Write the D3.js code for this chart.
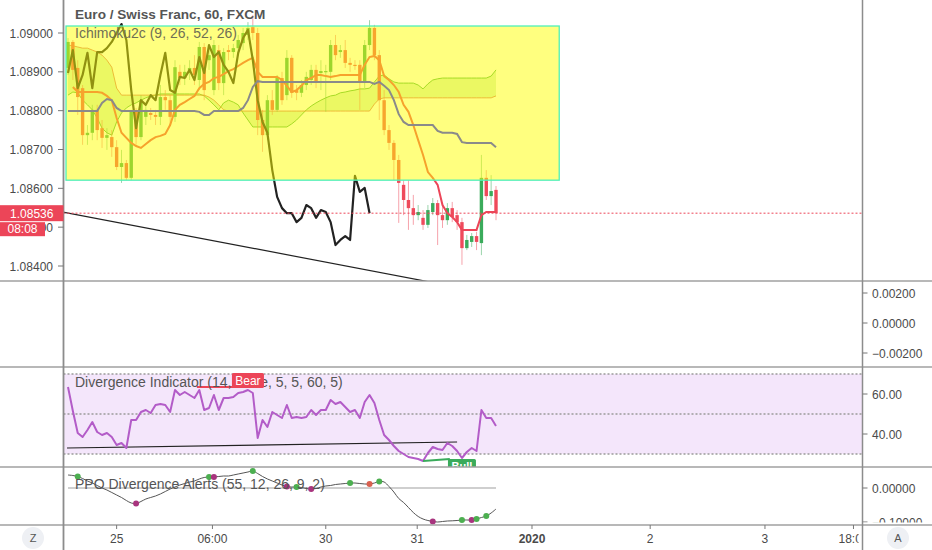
<!DOCTYPE html>
<html><head><meta charset="utf-8">
<script src="https://cdnjs.cloudflare.com/ajax/libs/d3/7.8.5/d3.min.js"></script>
<style>body{margin:0;background:#fff;overflow:hidden}text{font-family:"Liberation Sans",Arial,sans-serif}</style>
</head><body><svg id="c" width="932" height="550"></svg>
<script>
// ---------- DATA (EUR/CHF 60, FXCM) ----------
const open = [1.08910,1.08977,1.08910,1.08858,1.08737,1.08743,1.08802,1.08755,1.08730,1.08732,
1.08706,1.08655,1.08665,1.08627,1.08797,1.08732,1.08784,1.08794,1.08789,1.08784,
1.08835,1.08827,1.08784,1.08900,1.08884,1.08897,1.08910,1.08879,1.08964,1.08930,
1.08853,1.08956,1.08871,1.08956,1.08951,1.08961,1.08974,1.08995,1.09015,1.09000,
1.08776,1.08737,1.08827,1.08802,1.08884,1.08840,1.08936,1.08853,1.08846,1.08866,
1.08879,1.08905,1.08897,1.08900,1.08900,1.08969,1.08951,1.08956,1.08923,1.08918,
1.08918,1.08874,1.08969,1.09013,1.08943,1.08827,1.08750,1.08717,1.08673,1.08609,
1.08570,1.08549,1.08531,1.08524,1.08506,1.08539,1.08562,1.08531,1.08518,1.08549,
1.08531,1.08513,1.08446,1.08462,1.08477,1.08459,1.08627,1.08580,1.08596];
const high = [1.08987,1.08982,1.08930,1.08866,1.08763,1.08815,1.08815,1.08776,1.08755,1.08750,
1.08724,1.08699,1.08673,1.08802,1.08807,1.08840,1.08815,1.08807,1.08802,1.08866,
1.08853,1.08840,1.08930,1.08918,1.08918,1.08930,1.08943,1.08977,1.08974,1.08956,
1.08982,1.08969,1.08961,1.08969,1.08972,1.08995,1.09013,1.09028,1.09046,1.09013,
1.08802,1.08840,1.08853,1.08892,1.08900,1.08956,1.08943,1.08866,1.08879,1.08900,
1.08918,1.08918,1.08930,1.08918,1.08982,1.08995,1.08969,1.08982,1.08936,1.08930,
1.08930,1.08982,1.09033,1.09021,1.08956,1.08853,1.08763,1.08724,1.08686,1.08621,
1.08621,1.08583,1.08557,1.08544,1.08557,1.08575,1.08570,1.08557,1.08562,1.08565,
1.08544,1.08524,1.08480,1.08485,1.08488,1.08686,1.08647,1.08634,1.08606];
const low = [1.08892,1.08879,1.08789,1.08712,1.08712,1.08724,1.08724,1.08704,1.08699,1.08681,
1.08647,1.08614,1.08621,1.08621,1.08712,1.08724,1.08763,1.08776,1.08763,1.08763,
1.08802,1.08763,1.08771,1.08866,1.08866,1.08879,1.08866,1.08853,1.08827,1.08905,
1.08840,1.08853,1.08840,1.08930,1.08936,1.08943,1.08956,1.08982,1.08982,1.08737,
1.08694,1.08724,1.08789,1.08797,1.08815,1.08827,1.08833,1.08827,1.08835,1.08853,
1.08866,1.08858,1.08853,1.08797,1.08879,1.08930,1.08936,1.08910,1.08900,1.08905,
1.08802,1.08858,1.08956,1.08930,1.08776,1.08737,1.08699,1.08621,1.08511,1.08531,
1.08493,1.08506,1.08518,1.08493,1.08498,1.08531,1.08454,1.08498,1.08506,1.08513,
1.08493,1.08403,1.08441,1.08449,1.08441,1.08428,1.08570,1.08557,1.08518];
const close = [1.08977,1.08905,1.08835,1.08737,1.08743,1.08802,1.08750,1.08730,1.08737,1.08706,
1.08655,1.08665,1.08627,1.08797,1.08732,1.08827,1.08802,1.08789,1.08784,1.08835,
1.08827,1.08784,1.08912,1.08884,1.08900,1.08910,1.08892,1.08964,1.08853,1.08943,
1.08969,1.08871,1.08951,1.08951,1.08961,1.08982,1.09000,1.09013,1.09000,1.08776,
1.08737,1.08827,1.08802,1.08884,1.08827,1.08936,1.08846,1.08846,1.08866,1.08887,
1.08905,1.08874,1.08902,1.08902,1.08969,1.08943,1.08956,1.08923,1.08918,1.08915,
1.08874,1.08969,1.09013,1.08943,1.08827,1.08750,1.08717,1.08673,1.08614,1.08570,
1.08549,1.08531,1.08539,1.08506,1.08544,1.08562,1.08531,1.08518,1.08549,1.08526,
1.08513,1.08446,1.08467,1.08477,1.08462,1.08627,1.08580,1.08593,1.08536];

// Ichimoku2c (9, 26, 52, 26)
const tenkan = [null,1.08861,1.08848,1.08848,1.08848,1.08848,1.08848,1.08846,1.08838,1.08827,
1.08781,1.08743,1.08730,1.08717,1.08709,1.08704,1.08714,1.08724,1.08732,1.08735,
1.08740,1.08763,1.08802,1.08815,1.08822,1.08830,1.08838,1.08858,1.08869,1.08874,
1.08884,1.08887,1.08894,1.08902,1.08907,1.08915,1.08923,1.08930,1.08936,1.08900,
1.08887,1.08887,1.08887,1.08887,1.08879,1.08864,1.08848,1.08853,1.08864,1.08879,
1.08884,1.08892,1.08892,1.08889,1.08887,1.08889,1.08892,1.08892,1.08892,1.08892,
1.08892,1.08918,1.08938,1.08941,1.08930,1.08889,1.08879,1.08866,1.08848,1.08815,
1.08797,1.08763,1.08724,1.08686,1.08642,1.08627,1.08609,1.08557,1.08536,1.08526,
1.08513,1.08493,1.08493,1.08493,1.08493,1.08531,1.08539,1.08539,1.08539];
const kijun = [1.08799,1.08799,1.08799,1.08799,1.08799,1.08799,1.08799,1.08820,1.08830,1.08827,
1.08807,1.08799,1.08799,1.08799,1.08799,1.08799,1.08799,1.08799,1.08799,1.08799,
1.08799,1.08799,1.08799,1.08799,1.08799,1.08799,1.08799,1.08797,1.08789,1.08789,
1.08799,1.08799,1.08799,1.08799,1.08799,1.08799,1.08807,1.08827,1.08861,1.08876,
1.08874,1.08874,1.08874,1.08874,1.08874,1.08874,1.08874,1.08874,1.08874,1.08874,
1.08874,1.08874,1.08874,1.08874,1.08874,1.08874,1.08874,1.08874,1.08874,1.08874,
1.08874,1.08874,1.08874,1.08869,1.08874,1.08864,1.08853,1.08827,1.08791,1.08771,
1.08763,1.08763,1.08763,1.08763,1.08763,1.08763,1.08748,1.08743,1.08743,1.08743,
1.08740,1.08719,1.08717,1.08717,1.08717,1.08717,1.08717,1.08717,1.08706];
const senkouA = [1.08840,1.08848,1.08846,1.08827,1.08815,1.08802,1.08781,1.08755,1.08743,1.08737,
1.08771,1.08794,1.08807,1.08815,1.08820,1.08827,1.08833,1.08838,1.08840,1.08843,
1.08843,1.08843,1.08843,1.08843,1.08843,1.08843,1.08843,1.08843,1.08838,1.08827,
1.08815,1.08802,1.08820,1.08827,1.08822,1.08815,1.08794,1.08776,1.08758,1.08758,
1.08758,1.08758,1.08758,1.08758,1.08758,1.08758,1.08766,1.08776,1.08789,1.08802,
1.08812,1.08820,1.08827,1.08833,1.08838,1.08840,1.08846,1.08848,1.08851,1.08853,
1.08856,1.08856,1.08858,1.08874,1.08889,1.08892,1.08882,1.08874,1.08871,1.08871,
1.08871,1.08871,1.08866,1.08856,1.08869,1.08879,1.08882,1.08884,1.08884,1.08884,
1.08884,1.08884,1.08884,1.08884,1.08884,1.08884,1.08884,1.08889,1.08905];
const senkouB = [1.08969,1.08967,1.08964,1.08961,1.08961,1.08956,1.08951,1.08943,1.08930,1.08912,
1.08858,1.08840,1.08840,1.08840,1.08840,1.08840,1.08840,1.08840,1.08840,1.08840,
1.08840,1.08840,1.08840,1.08840,1.08840,1.08840,1.08840,1.08840,1.08840,1.08835,
1.08827,1.08815,1.08802,1.08799,1.08799,1.08799,1.08799,1.08799,1.08799,1.08799,
1.08799,1.08799,1.08799,1.08799,1.08799,1.08799,1.08799,1.08799,1.08799,1.08799,
1.08799,1.08799,1.08799,1.08799,1.08799,1.08799,1.08799,1.08799,1.08799,1.08799,
1.08799,1.08799,1.08799,1.08817,1.08830,1.08833,1.08833,1.08833,1.08833,1.08833,
1.08833,1.08833,1.08833,1.08833,1.08833,1.08833,1.08833,1.08833,1.08833,1.08833,
1.08833,1.08833,1.08833,1.08833,1.08833,1.08833,1.08833,1.08833,1.08838];
const lagging = [1.08897,1.08956,1.08858,1.08892,1.08949,1.08858,1.08951,1.08951,1.08961,1.08977,
1.09000,1.09023,1.08982,1.08853,1.08755,1.08827,1.08815,1.08840,1.08827,1.08892,
1.08949,1.08853,1.08846,1.08887,1.08884,1.08905,1.08879,1.08938,1.08897,1.08969,
1.08938,1.08951,1.08918,1.08900,1.08871,1.08949,1.08987,1.09008,1.08930,1.08827,
1.08771,1.08743,1.08647,1.08578,1.08549,1.08536,1.08536,1.08513,1.08524,1.08557,
1.08549,1.08524,1.08544,1.08539,1.08513,1.08454,1.08467,1.08477,1.08467,1.08632,
1.08591,1.08601,1.08536];

// Divergence Indicator (RSI 14)
const rsi = [63.5,51.5,40.5,38.5,42,46,41,39.5,40.5,38.5,
34.5,35.5,33,47,47,51,52,50.5,54.5,55,
54.5,51,62,59.5,61,59.5,58,62,52,53,
59.5,52,58,58,58.5,60.5,61,62,60.5,38,
47,43.5,51,49.5,48,54.5,48,48.5,48,48.5,
52,49.5,52,52,57,55,56,53.5,51,52,
48,56,59.5,55.5,47,39.5,37,34,31.5,30,
28.5,28,27.5,26.5,30.5,33.5,32.5,32,35.5,34,
31.5,28,31,33,31.5,52,48,48,44];

// PPO Divergence Alerts (55, 12, 26, 9, 2)
const ppo = [0.0382,0.0368,0.0338,0.0279,0.0206,0.0147,0.0074,0,-0.0059,-0.0132,
-0.0206,-0.0279,-0.0368,-0.0441,-0.0456,-0.0397,-0.0324,-0.0279,-0.0235,-0.0176,
-0.0103,-0.0029,0.0029,0.0088,0.0132,0.0176,0.0206,0.0265,0.0309,0.0324,
0.0324,0.0338,0.0353,0.0353,0.0382,0.0412,0.0441,0.0471,0.0500,0.0426,
0.0338,0.0265,0.0206,0.0147,0.0088,0.0044,0.0029,0.0029,0.0015,-0.0015,
-0.0029,-0.0015,0.0029,0.0059,0.0074,0.0103,0.0118,0.0132,0.0147,0.0147,
0.0132,0.0118,0.0118,0.0147,0.0191,0.0176,0.0044,-0.0118,-0.0309,-0.0426,
-0.0574,-0.0721,-0.0838,-0.0912,-0.0956,-0.0985,-0.1000,-0.0985,-0.0971,-0.0965,
-0.0956,-0.0941,-0.0941,-0.0941,-0.0912,-0.0868,-0.0824,-0.0735,-0.0618];
const ppoSignals = [{i:2,t:"bull"},{i:14,t:"bear"},{i:29,t:"bull"},{i:30,t:"bear"},{i:38,t:"bull"},
{i:45,t:"bear"},{i:47,t:"bull"},{i:50,t:"bear"},{i:58,t:"bull"},{i:62,t:"hbear"},{i:64,t:"bull"},
{i:75,t:"bear"},{i:81,t:"bull"},{i:83,t:"bear"},{i:84,t:"bull"},{i:86,t:"bull"}];

// Drawings (bar index / value anchors)
const trendMain = [{i:-1.03,p:1.08539},{i:73.5,p:1.08361}];
const box = {i0:-0.41,i1:101,pTop:1.09018,pBot:1.08621};
const rsiTrend = [{i:-0.2,v:33},{i:80,v:36}];
const bearLine = [{i:26.5,v:63.5},{i:37,v:63.5}];
const bullLine = [{i:73,v:26.5},{i:78.5,v:27.5}];
const bearLabel = {i:37,v:63,text:"Bear"};
const bullLabel = {i:81,v:27.5,text:"Bull"};
const lastPrice = 1.08536, countdown = "08:08";

// Tick labels
const priceTicks = [1.084,1.085,1.086,1.087,1.088,1.089,1.090];
const pane2Ticks = [0.002,0,-0.002];
const rsiTicks = [60,40];
const rsiLevels = [70,50,30];
const ppoTicks = [0,-0.1];
const timeTicks = [{i:10,l:"25"},{i:29.7,l:"06:00"},{i:53,l:"30"},{i:71.8,l:"31"},{i:95.4,l:"2020",b:true},
{i:119.7,l:"2"},{i:143.3,l:"3"},{i:161.5,l:"18:00"}];

// ---------- LAYOUT ----------
const L = 63.5, R = 862.5;
const P = {main:[0,281], p2:[281,367], rsi:[367,467], ppo:[467,525], time:[525,550]};
const UP = "#3aab5b", DN = "#ef4a5b", TXT = "#4a4a4a";

const svg = d3.select("#c");
const x = d3.scaleLinear().domain([0,88]).range([68,496]);
const yMain = d3.scaleLinear().domain([1.084,1.090]).range([266,33]);
const yP2 = d3.scaleLinear().domain([-0.002,0.002]).range([353,293]);
const yRsi = d3.scaleLinear().domain([30,70]).range([454,374]);
const yPpo = d3.scaleLinear().domain([-0.1,0]).range([522,488]);

const defs = svg.append("defs");
function clip(id, y0, y1, x0=L, x1=R){
  defs.append("clipPath").attr("id",id).append("rect").attr("x",x0).attr("y",y0).attr("width",x1-x0).attr("height",y1-y0);
  return `url(#${id})`;
}
const fmt5 = d3.format(".5f"), fmt2 = d3.format(".2f");
const fmtSigned = v => (v<0?"\u2212":"") + fmt5(Math.abs(v));

// ---------- MAIN PANE ----------
const main = svg.append("g").attr("clip-path", clip("cm", P.main[0], P.main[1]));
const idx = d3.range(open.length);

// cloud
main.append("path").datum(idx)
  .attr("d", d3.area().x(i=>x(i)).y0(i=>yMain(senkouA[i])).y1(i=>yMain(senkouB[i])))
  .attr("fill","rgba(120,205,70,0.30)");
main.append("path").datum(idx).attr("d", d3.line().x(i=>x(i)).y(i=>yMain(senkouA[i])))
  .attr("fill","none").attr("stroke","#4fb64a").attr("stroke-width",1);
main.append("path").datum(idx).attr("d", d3.line().x(i=>x(i)).y(i=>yMain(senkouB[i])))
  .attr("fill","none").attr("stroke","#d5584e").attr("stroke-width",1).attr("opacity",0.8);

// candles
const isUp = i => close[i] >= open[i];
main.append("g").selectAll("line").data(idx).join("line")
  .attr("x1",i=>x(i)).attr("x2",i=>x(i))
  .attr("y1",i=>yMain(high[i])).attr("y2",i=>yMain(low[i]))
  .attr("stroke",i=>isUp(i)?UP:DN).attr("stroke-width",1).attr("opacity",0.5);
main.append("g").selectAll("rect").data(idx).join("rect")
  .attr("x",i=>x(i)-1.7).attr("width",3.4)
  .attr("y",i=>yMain(Math.max(open[i],close[i])))
  .attr("height",i=>Math.max(1.2,Math.abs(yMain(open[i])-yMain(close[i]))))
  .attr("fill",i=>isUp(i)?UP:DN);

// tenkan
main.append("path").datum(idx)
  .attr("d", d3.line().defined(i=>tenkan[i]!=null).x(i=>x(i)).y(i=>yMain(tenkan[i])))
  .attr("fill","none").attr("stroke","#ec4558").attr("stroke-width",2);
// lagging
main.append("path").datum(d3.range(lagging.length))
  .attr("d", d3.line().x(i=>x(i)).y(i=>yMain(lagging[i])))
  .attr("fill","none").attr("stroke","#222").attr("stroke-width",2.2).attr("stroke-linejoin","round");

// main trend line (extended to the right)
{
  const a = trendMain[0], b = trendMain[1];
  const slope = (b.p-a.p)/(b.i-a.i);
  const iEnd = 120;
  main.append("line").attr("x1",x(a.i)).attr("y1",yMain(a.p))
    .attr("x2",x(iEnd)).attr("y2",yMain(a.p+slope*(iEnd-a.i)))
    .attr("stroke","#222").attr("stroke-width",1.2);
}

// yellow highlight rectangle
main.append("rect")
  .attr("x",x(box.i0)).attr("y",yMain(box.pTop))
  .attr("width",x(box.i1)-x(box.i0)).attr("height",yMain(box.pBot)-yMain(box.pTop))
  .attr("fill","#ffff00").attr("fill-opacity",0.5)
  .attr("stroke","#4ff0b8").attr("stroke-width",1.3);

// kijun
main.append("path").datum(idx)
  .attr("d", d3.line().x(i=>x(i)).y(i=>yMain(kijun[i])))
  .attr("fill","none").attr("stroke","#8a8a8a").attr("stroke-width",2);

// last price line
main.append("line").attr("x1",L).attr("x2",R).attr("y1",yMain(lastPrice)).attr("y2",yMain(lastPrice))
  .attr("stroke","#ec4558").attr("stroke-width",1).attr("stroke-dasharray","2,2");

// legends
svg.append("text").attr("x",75).attr("y",19).attr("font-size",13.6).attr("font-weight","bold")
  .attr("fill","#555").text("Euro / Swiss Franc, 60, FXCM");
svg.append("text").attr("x",75).attr("y",38).attr("font-size",14)
  .attr("fill","#6f6f55").text("Ichimoku2c (9, 26, 52, 26)");

// ---------- RSI PANE ----------
const rg = svg.append("g").attr("clip-path", clip("cr", P.rsi[0], P.rsi[1]));
rg.append("rect").attr("x",L).attr("width",R-L)
  .attr("y",yRsi(70)).attr("height",yRsi(30)-yRsi(70)).attr("fill","#f4e6fb");
rg.selectAll("line.lv").data(rsiLevels).join("line")
  .attr("x1",L).attr("x2",R).attr("y1",d=>yRsi(d)).attr("y2",d=>yRsi(d))
  .attr("stroke","#9a9a9a").attr("stroke-width",1.3).attr("stroke-dasharray","2,2");
rg.append("line").attr("x1",x(rsiTrend[0].i)).attr("y1",yRsi(rsiTrend[0].v))
  .attr("x2",x(rsiTrend[1].i)).attr("y2",yRsi(rsiTrend[1].v)).attr("stroke","#222").attr("stroke-width",1.2);
rg.append("path").datum(idx)
  .attr("d", d3.line().x(i=>x(i)).y(i=>yRsi(rsi[i])))
  .attr("fill","none").attr("stroke","#b35cc8").attr("stroke-width",2).attr("stroke-linejoin","round");
rg.append("line").attr("x1",x(bearLine[0].i)).attr("y1",yRsi(bearLine[0].v))
  .attr("x2",x(bearLine[1].i)).attr("y2",yRsi(bearLine[1].v)).attr("stroke","#ec4558").attr("stroke-width",2);
rg.append("line").attr("x1",x(bullLine[0].i)).attr("y1",yRsi(bullLine[0].v))
  .attr("x2",x(bullLine[1].i)).attr("y2",yRsi(bullLine[1].v)).attr("stroke","#3aab5b").attr("stroke-width",2);
svg.append("text").attr("x",75).attr("y",387).attr("font-size",14).attr("fill","#555")
  .text("Divergence Indicator (14, close, 5, 5, 60, 5)");
{
  const bx = x(bearLabel.i), by = yRsi(bearLabel.v);
  svg.append("rect").attr("x",bx-16).attr("y",by-15).attr("width",32).attr("height",15).attr("rx",1.5).attr("fill","#ec4558");
  svg.append("text").attr("x",bx).attr("y",by-3.5).attr("text-anchor","middle").attr("font-size",12)
    .attr("fill","#fff").text(bearLabel.text);
  const ux = x(bullLabel.i), uy = yRsi(bullLabel.v);
  rg.append("rect").attr("x",ux-14).attr("y",uy).attr("width",28).attr("height",14).attr("rx",1.5).attr("fill","#3aab5b");
  rg.append("text").attr("x",ux).attr("y",uy+11).attr("text-anchor","middle").attr("font-size",11)
    .attr("font-weight","bold").attr("fill","#fff").text(bullLabel.text);
}

// ---------- PPO PANE ----------
const pg = svg.append("g").attr("clip-path", clip("cp", P.ppo[0], P.ppo[1]));
pg.append("line").attr("x1",x(0)).attr("x2",x(88)).attr("y1",yPpo(0)).attr("y2",yPpo(0))
  .attr("stroke","#cfcfcf").attr("stroke-width",2);
pg.append("path").datum(idx)
  .attr("d", d3.line().curve(d3.curveCatmullRom).x(i=>x(i)).y(i=>yPpo(ppo[i])))
  .attr("fill","none").attr("stroke","#555").attr("stroke-width",1);
svg.append("text").attr("x",75).attr("y",489).attr("font-size",14).attr("fill","#555")
  .text("PPO Divergence Alerts (55, 12, 26, 9, 2)");
pg.selectAll("circle").data(ppoSignals).join("circle")
  .attr("cx",d=>x(d.i)).attr("cy",d=>yPpo(ppo[d.i])).attr("r",3)
  .attr("fill",d=>d.t==="bull"?"#4caf50":(d.t==="bear"?"#a8347e":"#d9604f"));

// ---------- AXES & FRAME ----------
svg.selectAll("line.sep").data([P.main[1],P.p2[1],P.rsi[1],P.ppo[1]]).join("line")
  .attr("x1",0).attr("x2",932).attr("y1",d=>d).attr("y2",d=>d)
  .attr("stroke","#a0a0a0").attr("stroke-width",1.3);
svg.append("line").attr("x1",L).attr("x2",L).attr("y1",0).attr("y2",550).attr("stroke","#8c8c8c").attr("stroke-width",1.8);
svg.append("line").attr("x1",R).attr("x2",R).attr("y1",0).attr("y2",550).attr("stroke","#8c8c8c").attr("stroke-width",1.5);

// left price axis
const la = svg.append("g");
la.selectAll("text").data(priceTicks).join("text")
  .attr("x",53).attr("y",d=>yMain(d)+4.5).attr("text-anchor","end")
  .attr("font-size",12).attr("fill",TXT).text(fmt5);
la.selectAll("line").data(priceTicks).join("line")
  .attr("x1",58).attr("x2",L).attr("y1",d=>yMain(d)).attr("y2",d=>yMain(d)).attr("stroke","#777");

// right axes
function rightAxis(ticks, scale, f, cid, y0, y1){
  const g = svg.append("g").attr("clip-path", clip(cid, y0, y1, R-2, 932));
  g.selectAll("line").data(ticks).join("line").attr("x1",R).attr("x2",R+5)
    .attr("y1",d=>scale(d)).attr("y2",d=>scale(d)).attr("stroke","#777");
  g.selectAll("text").data(ticks).join("text").attr("x",872).attr("y",d=>scale(d)+4.5)
    .attr("font-size",12).attr("fill",TXT).text(f);
}
rightAxis(pane2Ticks, yP2, fmtSigned, "ra1", P.p2[0], P.p2[1]);
rightAxis(rsiTicks, yRsi, fmt2, "ra2", P.rsi[0], P.rsi[1]);
rightAxis(ppoTicks, yPpo, fmtSigned, "ra3", P.ppo[0], P.ppo[1]-2.5);

// current price labels
svg.append("rect").attr("x",0).attr("y",yMain(lastPrice)-8).attr("width",L).attr("height",16).attr("fill","#ec4558");
svg.append("text").attr("x",L/2).attr("y",yMain(lastPrice)+4.5).attr("text-anchor","middle")
  .attr("font-size",12).attr("fill","#fff").text(fmt5(lastPrice));
svg.append("rect").attr("x",0).attr("y",yMain(lastPrice)+9).attr("width",45).attr("height",14).attr("fill","#ec4558");
svg.append("text").attr("x",22.5).attr("y",yMain(lastPrice)+20).attr("text-anchor","middle")
  .attr("font-size",12).attr("fill","#fff").text(countdown);

// time axis
const tg = svg.append("g").attr("clip-path", clip("ct", P.time[0]-1, 550, L, R-4));
tg.selectAll("line").data(timeTicks).join("line")
  .attr("x1",d=>x(d.i)).attr("x2",d=>x(d.i)).attr("y1",P.time[0]).attr("y2",P.time[0]+4).attr("stroke","#777");
tg.selectAll("text").data(timeTicks).join("text")
  .attr("x",d=>x(d.i)).attr("y",542.5).attr("text-anchor","middle")
  .attr("font-size",12).attr("font-weight",d=>d.b?"bold":"normal").attr("fill",TXT).text(d=>d.l);

// Z / A buttons
[[33,"Z"],[898,"A"]].forEach(([cx,t])=>{
  svg.append("circle").attr("cx",cx).attr("cy",538).attr("r",11).attr("fill","#eef0f4");
  svg.append("text").attr("x",cx).attr("y",542).attr("text-anchor","middle").attr("font-size",11).attr("fill","#555").text(t);
});
</script></body></html>
